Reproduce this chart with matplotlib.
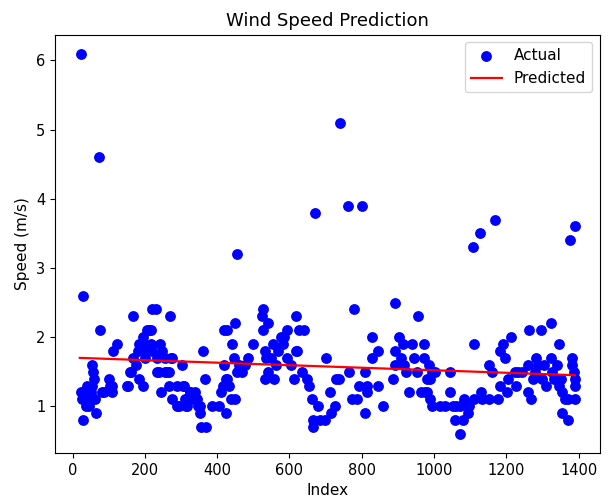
import matplotlib
matplotlib.use("Agg")
import matplotlib.pyplot as plt

index_vals = [22, 24, 26, 28, 30, 33, 38, 41, 44, 46, 50, 53, 55, 57, 59, 62, 66, 73, 75, 81, 88,
              100, 104, 108, 110, 113, 124, 151, 154, 158,
              162, 167, 167, 176, 181, 185, 185, 194, 195, 198, 200, 207, 207, 212, 216, 217, 221, 221,
              230, 234, 234, 239, 243, 244, 248, 257, 257, 261, 266, 266, 270, 271, 275, 275, 288, 289,
              293, 302, 306, 307, 311, 315, 316, 324, 325, 333, 338, 343, 347, 352, 352, 356, 360, 365,
              369, 387, 405, 410, 415, 419, 419, 424, 424, 428, 428, 433, 437, 441, 446, 450, 450, 455,
              455, 460,
              468, 477, 486, 500, 523, 527, 527, 531, 531, 536, 540, 540, 549, 554, 558, 563, 567, 576,
              581, 585, 594, 594, 603, 612, 617, 617, 621, 626, 634, 640, 648, 653, 662, 666, 666, 670,
              680, 684, 698, 702, 711, 716, 725, 729, 738, 741, 761, 765, 774, 778, 788, 792, 801, 810,
              810, 814, 814, 828, 828, 846, 846, 860, 886, 891, 891, 891, 904, 909, 913, 918, 922, 931,
              940, 945, 955, 954,
              963, 972, 972, 976, 981, 981, 985, 990, 990, 994, 994, 1003, 1017, 1030, 1044, 1044, 1053,
              1057, 1062, 1071, 1071, 1080, 1084, 1093, 1098, 1109, 1111, 1111, 1128, 1129, 1133, 1151,
              1151, 1160, 1170, 1178, 1183, 1183, 1192, 1196, 1201, 1205, 1214, 1223, 1228, 1233, 1242,
              1260, 1260, 1264, 1269, 1273, 1278, 1282, 1287, 1296, 1300, 1305, 1309, 1323, 1323, 1327,
              1332, 1341, 1345, 1345, 1350, 1354, 1354, 1363, 1372, 1372, 1377, 1381, 1381, 1386, 1390,
              1390, 1390, 1390]

speed_vals = [6.1, 1.2, 1.1, 2.6, 0.8, 1.2, 1.0, 1.3, 1.1, 1.0, 1.2, 1.3, 1.6, 1.5, 1.4, 1.1, 0.9, 4.6, 2.1, 1.2, 1.2,
              1.4, 1.3, 1.2, 1.3, 1.8, 1.9, 1.3, 1.3, 1.5,
              1.5, 2.3, 1.7, 1.6, 1.8, 1.4, 1.9, 2.0, 1.3, 1.9, 1.7, 2.1, 1.8, 2.1, 2.1, 1.9, 1.8, 2.4,
              2.4, 1.7, 1.5, 1.5, 1.9, 1.2, 1.8, 1.7, 1.5, 1.5, 1.5, 1.3, 2.3, 1.7, 1.7, 1.1, 1.0, 1.3,
              1.0, 1.6, 1.3, 1.3, 1.1, 1.0, 1.0, 1.2, 1.2, 1.1, 1.2, 1.1, 1.0, 1.0, 0.9, 0.7, 1.8, 1.4,
              0.7, 1.0, 1.0, 1.2, 1.3, 1.6, 2.1, 1.4, 0.9, 1.4, 2.1, 1.3, 1.1, 1.9, 1.7, 2.2, 1.1, 3.2,
              1.5, 1.6,
              1.5, 1.6, 1.7, 1.9, 2.3, 2.4, 2.1, 1.8, 1.4, 1.7, 1.5, 2.2, 1.7, 1.9, 1.4, 1.6, 1.8, 2.0,
              1.9, 2.0, 2.1, 1.7, 1.6, 1.4, 2.3, 1.8, 1.8, 2.1, 1.5, 2.1, 1.4, 1.3, 1.1, 0.8, 0.7, 3.8,
              1.0, 0.8, 0.8, 1.7, 1.2, 0.9, 1.0, 1.4, 1.4, 5.1, 3.9, 1.5, 1.1, 2.4, 1.1, 1.3, 3.9, 1.5,
              0.9, 1.3, 1.2, 2.0, 1.7, 1.8, 1.3, 1.0, 1.4, 2.5, 1.8, 1.6, 2.0, 1.7, 1.9, 1.6, 1.5, 1.2,
              1.9, 1.7, 2.3, 1.5,
              1.2, 1.9, 1.7, 1.2, 1.4, 1.2, 1.6, 1.4, 1.1, 1.5, 1.0, 1.5, 1.0, 1.0, 1.5, 1.2, 1.0,
              0.8, 1.0, 1.0, 0.6, 0.8, 1.1, 0.9, 1.0, 3.3, 1.9, 1.1, 3.5, 1.2, 1.1, 1.1,
              1.6, 1.5, 3.7, 1.1, 1.3, 1.8, 1.9, 1.7, 1.2, 1.4, 2.0, 1.5, 1.3, 1.5, 1.5,
              1.6, 1.2, 2.1, 1.1, 1.4, 1.5, 1.7, 1.6, 2.1, 1.4, 1.6, 1.3, 2.2, 1.7, 1.5,
              1.4, 1.6, 1.9, 1.3, 1.4, 1.2, 0.9, 1.1, 0.8, 1.1, 3.4, 1.7, 1.6, 1.5, 3.6,
              1.4, 1.3, 1.1]

pred_index = [20, 1390]
pred_speed = [1.70, 1.45]

plt.rcParams['font.size'] = 10.5
fig = plt.figure(figsize=(6.12, 5.0), dpi=100)
ax = fig.add_axes([0.09, 0.094, 0.89, 0.837])
ax.scatter(index_vals, speed_vals, color='blue', s=46, label='Actual')
ax.plot(pred_index, pred_speed, color='red', lw=1.6, label='Predicted')
ax.set_title('Wind Speed Prediction', fontsize=13)
ax.set_xlabel('Index', fontsize=11)
ax.set_ylabel('Speed (m/s)', fontsize=11)
ax.legend(loc='upper right', fontsize=11)
fig.savefig('out.png', dpi=100)
